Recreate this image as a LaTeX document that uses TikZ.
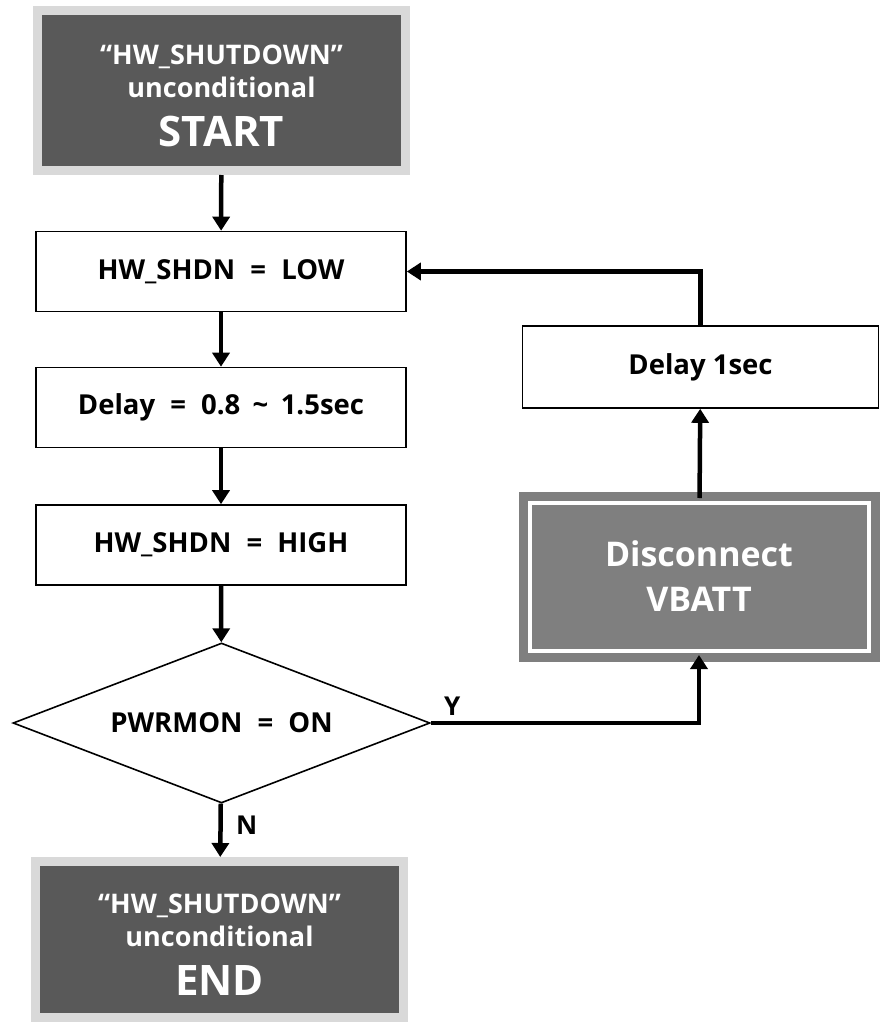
\documentclass[tikz,border=0pt]{standalone}
\usepackage{fontspec}
\setmainfont{Open Sans}
\usetikzlibrary{arrows.meta,shapes.geometric}
\definecolor{termfill}{HTML}{595959}
\definecolor{termrim}{HTML}{D9D9D9}
\definecolor{actfill}{HTML}{7F7F7F}
\newcommand{\eqsp}{\hspace{0.55em}=\hspace{0.55em}}
\newcommand{\toprow}{\rule{0pt}{30pt}}
\tikzset{
	box/.style={draw,line width=1.6pt,fill=white,minimum width=370pt,minimum height=80pt,inner sep=0pt,font=\bfseries\fontsize{27.5}{31}\selectfont},
	term/.style={fill=termfill,draw=termrim,line width=9pt,inner sep=0pt,text=white,align=center,font=\bfseries\fontsize{27}{33}\selectfont},
	decision/.style={diamond,draw,line width=1.6pt,aspect=2.6,inner sep=0pt,minimum width=417pt,minimum height=160pt,font=\bfseries\fontsize{27.5}{31}\selectfont},
	action/.style={fill=actfill,draw=actfill,double=white,double distance=4pt,line width=9pt,inner sep=0pt,text=white,align=center,font=\bfseries\fontsize{34}{45}\selectfont},
	flow/.style={line width=4.5pt,-{Triangle[length=14pt,width=17pt]}},
	tag/.style={font=\bfseries\fontsize{26}{30}\selectfont}
}
\begin{document}
\begin{tikzpicture}[x=1pt,y=-1pt]
	\useasboundingbox (0,0) rectangle (880,1022);
	\node[term,minimum width=368pt,minimum height=160pt] (start) at (221.5,90.5)
		{\toprow“HW\_SHUTDOWN”\\unconditional\\[16pt]{\fontsize{42}{46}\selectfont START}};
	\node[box] (low) at (221,271.5) {HW\_SHDN\eqsp LOW};
	\node[box] (wait) at (221,407.5) {Delay\eqsp 0.8\hspace{0.45em}\textasciitilde\hspace{0.45em}1.5sec};
	\node[box] (high) at (221,545) {HW\_SHDN\eqsp HIGH};
	\node[decision] (pwr) at (221.5,723) {PWRMON\eqsp ON};
	\node[term,minimum width=368pt,minimum height=156pt] (stop) at (219.5,939.5)
		{\toprow“HW\_SHUTDOWN”\\unconditional\\[16pt]{\fontsize{42}{46}\selectfont END}};
	\node[action,minimum width=339pt,minimum height=148pt] (cut) at (699,576.5) {Disconnect\\VBATT};
	\node[box,minimum width=356pt,minimum height=82pt] (pause) at (700.5,367) {Delay 1sec};
	\draw[flow] (start) -- (low);
	\draw[flow] (low) -- (wait);
	\draw[flow] (wait) -- (high);
	\draw[flow] (high) -- (pwr);
	\draw[flow] (pwr) -- node[tag,pos=0.4,right=10pt] {N} (stop);
	\draw[flow] (pwr.east) -| node[tag,pos=0.04,above=2pt] {Y} (cut.south);
	\draw[flow] (cut) -- (pause);
	\draw[flow] (pause.north) |- (low.east);
\end{tikzpicture}
\end{document}
